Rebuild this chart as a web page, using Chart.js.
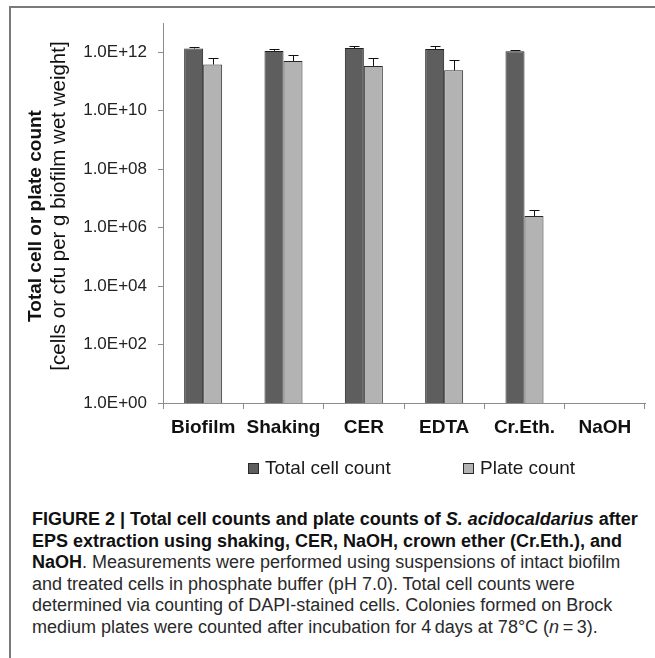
<!DOCTYPE html>
<html>
<head>
<meta charset="utf-8">
<script src="https://cdn.jsdelivr.net/npm/chart.js@4.4.1/dist/chart.umd.min.js"></script>
<style>
  html, body { margin: 0; padding: 0; background: #fff; }
  body { width: 655px; height: 658px; position: relative; overflow: hidden;
         font-family: "Liberation Sans", Arial, Helvetica, sans-serif; }
  #frameTop  { position: absolute; left: 9px; top: 6px; width: 646px; height: 2px; background: #7a7a7a; }
  #frameLeft { position: absolute; left: 9px; top: 6px; width: 2px; height: 652px; background: #7a7a7a; }
  #plot { position: absolute; left: 0; top: 0; }
  #legend { position: absolute; top: 457px; left: 0; width: 655px; height: 22px;
            font-size: 19px; line-height: 22px; color: #1a1a1a; }
  .item { position: absolute; top: 0; white-space: nowrap; }
  .swatch { display: inline-block; width: 9px; height: 9px; border: 1px solid #2a2a2a;
            margin-right: 6px; vertical-align: 0px; }
  #caption { position: absolute; left: 32px; top: 509px; font-size: 18px; line-height: 21.5px;
             color: #2a2a2a; white-space: nowrap; }
  #caption b { color: #111; }
</style>
</head>
<body>
<div id="frameTop"></div>
<div id="frameLeft"></div>
<canvas id="plot" width="655" height="460"></canvas>
<div id="legend"></div>
<div id="caption">
  <div><b>FIGURE 2 | Total cell counts and plate counts of <i>S. acidocaldarius</i> after</b></div>
  <div><b>EPS extraction using shaking, CER, NaOH, crown ether (Cr.Eth.), and</b></div>
  <div><b>NaOH</b>. Measurements were performed using suspensions of intact biofilm</div>
  <div>and treated cells in phosphate buffer (pH 7.0). Total cell counts were</div>
  <div>determined via counting of DAPI-stained cells. Colonies formed on Brock</div>
  <div>medium plates were counted after incubation for 4&#8201;days at 78°C (<i>n</i>&#8201;=&#8201;3).</div>
</div>

<script>
// Extraction methods on the x axis
const categories = ['Biofilm', 'Shaking', 'CER', 'EDTA', 'Cr.Eth.', 'NaOH'];

// Total cell counts (DAPI) and their upper standard deviation
const totalCellCount = [1.34e12, 1.11e12, 1.40e12, 1.29e12, 1.08e12, null];
const totalCellErr   = [0.14e12, 0.18e12, 0.24e12, 0.31e12, 0.12e12, null];

// Plate counts (cfu) and their upper standard deviation
const plateCount    = [3.8e11, 5.0e11, 3.4e11, 2.4e11, 2.5e6, null];
const plateCountErr = [2.8e11, 2.9e11, 3.2e11, 2.9e11, 1.5e6, null];

// Log axis ticks, every second decade
const yTickValues = [1, 1e2, 1e4, 1e6, 1e8, 1e10, 1e12];
const yTickLabels = ['1.0E+00', '1.0E+02', '1.0E+04', '1.0E+06', '1.0E+08', '1.0E+10', '1.0E+12'];

const yTitle = 'Total cell or plate count';
const ySubTitle = '[cells or cfu per g biofilm wet weight]';

const FONT = '"Liberation Sans", Arial, Helvetica, sans-serif';
const AXIS_GREY = '#8c8c8c';

// Upward-only error bars with a small cap
const errorBars = {
  id: 'errorBars',
  afterDatasetsDraw(chart) {
    const ctx = chart.ctx;
    const y = chart.scales.y;
    ctx.save();
    ctx.strokeStyle = '#111';
    ctx.lineWidth = 1;
    chart.data.datasets.forEach((ds, di) => {
      const meta = chart.getDatasetMeta(di);
      meta.data.forEach((bar, i) => {
        const v = ds.data[i];
        const e = ds.errors[i];
        if (v == null || e == null) return;
        const x = Math.round(bar.x) + 0.5;
        const yTop = Math.round(y.getPixelForValue(v + e)) + 0.5;
        const yBar = y.getPixelForValue(v);
        ctx.beginPath();
        ctx.moveTo(x, yBar);
        ctx.lineTo(x, yTop);
        ctx.moveTo(x - 5, yTop);
        ctx.lineTo(x + 5, yTop);
        ctx.stroke();
      });
    });
    ctx.restore();
  }
};

// Two-line rotated y-axis title: bold heading, regular unit line
const yAxisTitle = {
  id: 'yAxisTitle',
  afterDraw(chart) {
    const ctx = chart.ctx;
    const area = chart.chartArea;
    const cy = (area.top + area.bottom) / 2;
    ctx.save();
    ctx.fillStyle = '#111';
    ctx.textAlign = 'center';
    ctx.textBaseline = 'middle';
    ctx.translate(36, cy);
    ctx.rotate(-Math.PI / 2);
    ctx.font = 'bold 19px ' + FONT;
    ctx.fillText(yTitle, -3, 0);
    ctx.font = '20.5px ' + FONT;
    ctx.fillText(ySubTitle, 7, 23);
    ctx.restore();
  }
};

const chart = new Chart(document.getElementById('plot'), {
  type: 'bar',
  data: {
    labels: categories,
    datasets: [
      {
        label: 'Total cell count',
        data: totalCellCount,
        errors: totalCellErr,
        backgroundColor: '#5e5e5e',
        borderColor: '#1f1f1f',
        borderWidth: 1
      },
      {
        label: 'Plate count',
        data: plateCount,
        errors: plateCountErr,
        backgroundColor: '#b3b3b3',
        borderColor: '#2a2a2a',
        borderWidth: 1
      }
    ]
  },
  options: {
    responsive: false,
    animation: false,
    devicePixelRatio: 1,
    layout: { padding: { left: 10, top: 23, right: 10, bottom: 7 } },
    datasets: { bar: { categoryPercentage: 0.473, barPercentage: 1.0 } },
    plugins: {
      legend: { display: false },
      tooltip: { enabled: false }
    },
    scales: {
      x: {
        type: 'category',
        afterFit(s) { s.height = 50; },
        grid: { drawOnChartArea: false, offset: true, tickLength: 6, color: AXIS_GREY },
        border: { color: AXIS_GREY, width: 1 },
        ticks: {
          autoSkip: false, maxRotation: 0, padding: 7, color: '#111',
          font: { family: FONT, size: 19, weight: 'bold' }
        }
      },
      y: {
        type: 'logarithmic',
        min: 1,
        max: 1e13,
        afterFit(s) { s.width = 153; },
        afterBuildTicks(s) { s.ticks = yTickValues.map(v => ({ value: v })); },
        grid: { drawOnChartArea: false, tickLength: 5, color: AXIS_GREY },
        border: { color: AXIS_GREY, width: 1 },
        ticks: {
          padding: 11, color: '#222',
          font: { family: FONT, size: 17 },
          callback(v) {
            const k = yTickValues.indexOf(v);
            return k >= 0 ? yTickLabels[k] : '';
          }
        }
      }
    }
  },
  plugins: [errorBars, yAxisTitle]
});

// Legend built from the chart's datasets
const legend = document.getElementById('legend');
const legendLeft = [248, 463];
chart.data.datasets.forEach((ds, i) => {
  const item = document.createElement('div');
  item.className = 'item';
  item.style.left = legendLeft[i] + 'px';
  const sw = document.createElement('span');
  sw.className = 'swatch';
  sw.style.background = ds.backgroundColor;
  item.appendChild(sw);
  item.appendChild(document.createTextNode(ds.label));
  legend.appendChild(item);
});
</script>
</body>
</html>
